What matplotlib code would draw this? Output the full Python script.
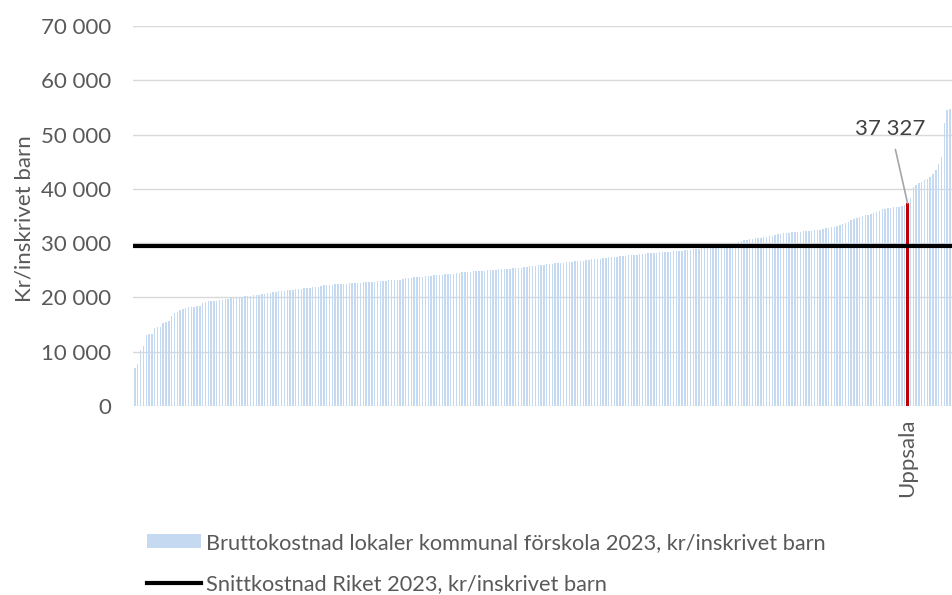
import matplotlib.pyplot as plt
from matplotlib.patches import Patch
from matplotlib.lines import Line2D

# Bruttokostnad lokaler kommunal förskola 2023, kr/inskrivet barn (sorted, one per kommun)
costs = [
    7000, 7700, 10300, 11100, 13100, 13200, 13300, 14300, 14500, 14600,
    15300, 15400, 15600, 16600, 17200, 17300, 17700, 17900, 18000, 18200,
    18200, 18300, 18400, 18500, 18900, 19100, 19300, 19300, 19300, 19400,
    19500, 19600, 19700, 19800, 19900, 20000, 20000, 20000, 20100, 20200,
    20300, 20300, 20400, 20500, 20500, 20600, 20700, 20800, 20900, 21000,
    21000, 21100, 21200, 21200, 21300, 21400, 21400, 21500, 21500, 21600,
    21700, 21700, 21800, 21900, 21900, 22000, 22100, 22200, 22200, 22300,
    22300, 22400, 22400, 22500, 22500, 22500, 22600, 22600, 22700, 22700,
    22700, 22800, 22800, 22800, 22900, 22900, 23000, 23000, 23100, 23100,
    23200, 23200, 23200, 23300, 23300, 23400, 23500, 23500, 23600, 23700,
    23700, 23800, 23800, 23900, 23900, 24000, 24100, 24100, 24200, 24200,
    24300, 24300, 24400, 24400, 24500, 24500, 24600, 24600, 24700, 24700,
    24800, 24800, 24800, 24900, 24900, 25000, 25000, 25100, 25100, 25200,
    25200, 25300, 25300, 25300, 25400, 25400, 25500, 25500, 25600, 25600,
    25700, 25700, 25800, 25900, 25900, 26000, 26100, 26200, 26200, 26300,
    26300, 26400, 26400, 26500, 26500, 26600, 26700, 26700, 26800, 26800,
    26900, 26900, 27000, 27000, 27100, 27100, 27200, 27300, 27400, 27400,
    27500, 27500, 27600, 27700, 27700, 27800, 27800, 27900, 27900, 28000,
    28000, 28000, 28100, 28100, 28200, 28200, 28300, 28300, 28300, 28400,
    28400, 28500, 28500, 28600, 28600, 28700, 28700, 28800, 28900, 28900,
    29000, 29100, 29100, 29200, 29300, 29400, 29500, 29500, 29600, 29700,
    29800, 29900, 30000, 30100, 30300, 30400, 30500, 30600, 30700, 30800,
    30900, 30900, 31000, 31100, 31200, 31300, 31400, 31500, 31600, 31700,
    31800, 31900, 31900, 32000, 32000, 32000, 32100, 32200, 32200, 32300,
    32300, 32400, 32400, 32500, 32600, 32700, 32800, 32900, 33000, 33200,
    33400, 33600, 33800, 33900, 34200, 34400, 34600, 34800, 35000, 35100,
    35200, 35400, 35600, 35800, 36000, 36200, 36300, 36400, 36500, 36600,
    36600, 36700, 36800, 37100, 37327, 38400, 40400, 40700, 41000, 41300,
    41600, 41900, 42100, 42700, 43500, 44500, 45900, 52100, 54500, 54800,
]
highlight_name = 'Uppsala'
highlight_idx = 274
riket_avg = 29470

series_label = 'Bruttokostnad lokaler kommunal förskola 2023, kr/inskrivet barn'
avg_label = 'Snittkostnad Riket 2023, kr/inskrivet barn'
y_ticks = [0, 10000, 20000, 30000, 40000, 50000, 60000, 70000]

TXT = '#595959'
BLUE = '#C5D9F1'
RED = '#C00000'

plt.rcParams['font.family'] = ['Lato', 'DejaVu Sans']

fig = plt.figure(figsize=(9.53, 5.95), dpi=100)
ax = fig.add_axes([133 / 953, 1 - 406 / 595, 820 / 953, 380 / 595])

x = list(range(len(costs)))
ax.bar(x, costs, width=0.5, color=BLUE, zorder=2)
ax.bar(highlight_idx, costs[highlight_idx], width=1.3, color=RED, zorder=3)
ax.axhline(riket_avg, color='black', lw=3, zorder=4)

ax.set_xlim(-0.7, 290.1)
ax.set_ylim(0, 70000)
ax.set_yticks(y_ticks)
ax.set_yticklabels([f'{v:,}'.replace(',', ' ') for v in y_ticks])
ax.set_xticks([highlight_idx])
ax.set_xticklabels([highlight_name], rotation=90, va='top')
ax.tick_params(axis='both', length=0, labelsize=16, colors=TXT)
ax.tick_params(axis='y', pad=16)
ax.tick_params(axis='x', pad=9)
ax.grid(axis='y', color='#D9D9D9', lw=1, zorder=0)
for s in ax.spines.values():
    s.set_visible(False)

ax.annotate(f'{costs[highlight_idx]:,}'.replace(',', ' '),
            xy=(highlight_idx, costs[highlight_idx]), xytext=(268, 51100),
            ha='center', va='center', fontsize=16, color='#404040',
            arrowprops=dict(arrowstyle='-', color='#A6A6A6', lw=1.2,
                            shrinkA=6, shrinkB=0), zorder=5)

fig.text(25 / 953, 1 - 219 / 595, 'Kr/inskrivet barn', rotation=90,
         ha='center', va='center', fontsize=16, color=TXT)

handles = [Patch(facecolor=BLUE, edgecolor='none'),
           Line2D([], [], color='black', lw=3)]
fig.legend(handles, [series_label, avg_label], loc='upper left',
           bbox_to_anchor=(138 / 953, 1 - 524 / 595), frameon=False,
           fontsize=15.7, labelcolor=TXT, handlelength=2.5, handleheight=0.65,
           handletextpad=0.2, labelspacing=1.0, borderaxespad=0)

fig.savefig('out.png', dpi=100)
